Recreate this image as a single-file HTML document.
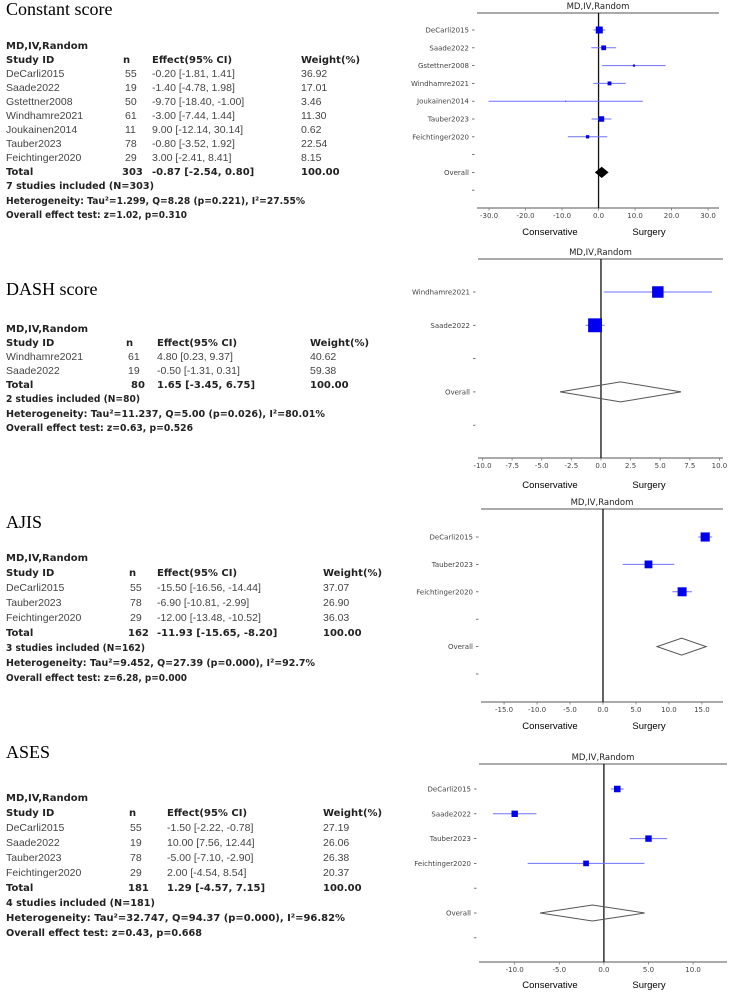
<!DOCTYPE html>
<html><head><meta charset="utf-8"><style>
body{margin:0;background:#fff;width:747px;height:992px;overflow:hidden}
svg{display:block}
.t{font-family:"Liberation Sans","DejaVu Sans",sans-serif;font-size:10.5px;fill:#444}
.b{font-family:"DejaVu Sans","Liberation Sans",sans-serif;font-size:10px;font-weight:bold;fill:#222}
.h{font-family:"Liberation Serif",serif;font-size:18px;fill:#000}
.ax{font-family:"DejaVu Sans","Liberation Sans",sans-serif;font-size:7px;fill:#444}
.lab{font-family:"Liberation Sans",sans-serif;font-size:9.5px;fill:#000}
.ttl{font-family:"DejaVu Sans","Liberation Sans",sans-serif;font-size:8.5px;fill:#222}
</style></head><body>
<svg id="s" width="747" height="992">
<g>
<text class="h" x="6" y="15">Constant score</text>
<text class="b" x="6" y="49">MD,IV,Random</text>
<text class="b" x="6" y="63">Study ID</text><text class="b" x="123" y="63">n</text><text class="b" x="152" y="63">Effect(95% CI)</text><text class="b" x="301" y="63">Weight(%)</text>
<text class="t" x="6" y="77">DeCarli2015</text><text class="t" x="125" y="77">55</text><text class="t" x="152" y="77">-0.20 [-1.81, 1.41]</text><text class="t" x="301" y="77">36.92</text>
<text class="t" x="6" y="91">Saade2022</text><text class="t" x="125" y="91">19</text><text class="t" x="152" y="91">-1.40 [-4.78, 1.98]</text><text class="t" x="301" y="91">17.01</text>
<text class="t" x="6" y="105">Gstettner2008</text><text class="t" x="125" y="105">50</text><text class="t" x="152" y="105">-9.70 [-18.40, -1.00]</text><text class="t" x="301" y="105">3.46</text>
<text class="t" x="6" y="119">Windhamre2021</text><text class="t" x="125" y="119">61</text><text class="t" x="152" y="119">-3.00 [-7.44, 1.44]</text><text class="t" x="301" y="119">11.30</text>
<text class="t" x="6" y="133">Joukainen2014</text><text class="t" x="125" y="133">11</text><text class="t" x="152" y="133">9.00 [-12.14, 30.14]</text><text class="t" x="301" y="133">0.62</text>
<text class="t" x="6" y="147">Tauber2023</text><text class="t" x="125" y="147">78</text><text class="t" x="152" y="147">-0.80 [-3.52, 1.92]</text><text class="t" x="301" y="147">22.54</text>
<text class="t" x="6" y="161">Feichtinger2020</text><text class="t" x="125" y="161">29</text><text class="t" x="152" y="161">3.00 [-2.41, 8.41]</text><text class="t" x="301" y="161">8.15</text>
<text class="b" x="6" y="175">Total</text><text class="b" x="122" y="175">303</text><text class="b" x="152" y="175">-0.87 [-2.54, 0.80]</text><text class="b" x="301" y="175">100.00</text>
<text class="b" x="6" y="189" textLength="148" lengthAdjust="spacingAndGlyphs">7 studies included (N=303)</text>
<text class="b" x="6" y="204" textLength="299" lengthAdjust="spacingAndGlyphs">Heterogeneity: Tau²=1.299, Q=8.28 (p=0.221), I²=27.55%</text>
<text class="b" x="6" y="218" textLength="181" lengthAdjust="spacingAndGlyphs">Overall effect test: z=1.02, p=0.310</text>
</g>
<g>
<text class="h" x="6" y="295">DASH score</text>
<text class="b" x="6" y="332">MD,IV,Random</text>
<text class="b" x="6" y="346">Study ID</text><text class="b" x="126" y="346">n</text><text class="b" x="157" y="346">Effect(95% CI)</text><text class="b" x="310" y="346">Weight(%)</text>
<text class="t" x="6" y="360">Windhamre2021</text><text class="t" x="128" y="360">61</text><text class="t" x="157" y="360">4.80 [0.23, 9.37]</text><text class="t" x="310" y="360">40.62</text>
<text class="t" x="6" y="374">Saade2022</text><text class="t" x="128" y="374">19</text><text class="t" x="157" y="374">-0.50 [-1.31, 0.31]</text><text class="t" x="310" y="374">59.38</text>
<text class="b" x="6" y="388">Total</text><text class="b" x="131" y="388">80</text><text class="b" x="157" y="388">1.65 [-3.45, 6.75]</text><text class="b" x="310" y="388">100.00</text>
<text class="b" x="6" y="402" textLength="134" lengthAdjust="spacingAndGlyphs">2 studies included (N=80)</text>
<text class="b" x="6" y="417" textLength="319" lengthAdjust="spacingAndGlyphs">Heterogeneity: Tau²=11.237, Q=5.00 (p=0.026), I²=80.01%</text>
<text class="b" x="6" y="431" textLength="187" lengthAdjust="spacingAndGlyphs">Overall effect test: z=0.63, p=0.526</text>
</g>
<g>
<text class="h" x="6" y="528">AJIS</text>
<text class="b" x="6" y="561">MD,IV,Random</text>
<text class="b" x="6" y="576">Study ID</text><text class="b" x="129" y="576">n</text><text class="b" x="157" y="576">Effect(95% CI)</text><text class="b" x="323" y="576">Weight(%)</text>
<text class="t" x="6" y="591">DeCarli2015</text><text class="t" x="130" y="591">55</text><text class="t" x="157" y="591">-15.50 [-16.56, -14.44]</text><text class="t" x="323" y="591">37.07</text>
<text class="t" x="6" y="606">Tauber2023</text><text class="t" x="130" y="606">78</text><text class="t" x="157" y="606">-6.90 [-10.81, -2.99]</text><text class="t" x="323" y="606">26.90</text>
<text class="t" x="6" y="621">Feichtinger2020</text><text class="t" x="130" y="621">29</text><text class="t" x="157" y="621">-12.00 [-13.48, -10.52]</text><text class="t" x="323" y="621">36.03</text>
<text class="b" x="6" y="636">Total</text><text class="b" x="128" y="636">162</text><text class="b" x="157" y="636">-11.93 [-15.65, -8.20]</text><text class="b" x="323" y="636">100.00</text>
<text class="b" x="6" y="651" textLength="139" lengthAdjust="spacingAndGlyphs">3 studies included (N=162)</text>
<text class="b" x="6" y="666" textLength="309" lengthAdjust="spacingAndGlyphs">Heterogeneity: Tau²=9.452, Q=27.39 (p=0.000), I²=92.7%</text>
<text class="b" x="6" y="681" textLength="181" lengthAdjust="spacingAndGlyphs">Overall effect test: z=6.28, p=0.000</text>
</g>
<g>
<text class="h" x="6" y="758">ASES</text>
<text class="b" x="6" y="801">MD,IV,Random</text>
<text class="b" x="6" y="816">Study ID</text><text class="b" x="129" y="816">n</text><text class="b" x="167" y="816">Effect(95% CI)</text><text class="b" x="323" y="816">Weight(%)</text>
<text class="t" x="6" y="831">DeCarli2015</text><text class="t" x="130" y="831">55</text><text class="t" x="167" y="831">-1.50 [-2.22, -0.78]</text><text class="t" x="323" y="831">27.19</text>
<text class="t" x="6" y="846">Saade2022</text><text class="t" x="130" y="846">19</text><text class="t" x="167" y="846">10.00 [7.56, 12.44]</text><text class="t" x="323" y="846">26.06</text>
<text class="t" x="6" y="861">Tauber2023</text><text class="t" x="130" y="861">78</text><text class="t" x="167" y="861">-5.00 [-7.10, -2.90]</text><text class="t" x="323" y="861">26.38</text>
<text class="t" x="6" y="876">Feichtinger2020</text><text class="t" x="130" y="876">29</text><text class="t" x="167" y="876">2.00 [-4.54, 8.54]</text><text class="t" x="323" y="876">20.37</text>
<text class="b" x="6" y="891">Total</text><text class="b" x="128" y="891">181</text><text class="b" x="167" y="891">1.29 [-4.57, 7.15]</text><text class="b" x="323" y="891">100.00</text>
<text class="b" x="6" y="906" textLength="149" lengthAdjust="spacingAndGlyphs">4 studies included (N=181)</text>
<text class="b" x="6" y="921" textLength="339" lengthAdjust="spacingAndGlyphs">Heterogeneity: Tau²=32.747, Q=94.37 (p=0.000), I²=96.82%</text>
<text class="b" x="6" y="936" textLength="196" lengthAdjust="spacingAndGlyphs">Overall effect test: z=0.43, p=0.668</text>
</g>
</svg>
<script>
// Panel 1: Constant score
const p1Labels=["DeCarli2015","Saade2022","Gstettner2008","Windhamre2021","Joukainen2014","Tauber2023","Feichtinger2020"];
const p1Mean=[0.2,1.4,9.7,3.0,-9.0,0.8,-3.0];
const p1Low=[-1.41,-1.98,1.0,-1.44,-30.14,-1.92,-8.41];
const p1High=[1.81,4.78,18.4,7.44,12.14,3.52,2.41];
const p1Weight=[36.92,17.01,3.46,11.30,0.62,22.54,8.15];
const p1Overall=[0.87,-0.8,2.54];
const p1Ticks=[-30,-20,-10,0,10,20,30];
// Panel 2: DASH
const p2Labels=["Windhamre2021","Saade2022"];
const p2Mean=[4.8,-0.5];
const p2Low=[0.23,-1.31];
const p2High=[9.37,0.31];
const p2Weight=[40.62,59.38];
const p2Overall=[1.65,-3.45,6.75];
const p2Ticks=[-10,-7.5,-5,-2.5,0,2.5,5,7.5,10];
// Panel 3: AJIS
const p3Labels=["DeCarli2015","Tauber2023","Feichtinger2020"];
const p3Mean=[15.5,6.9,12.0];
const p3Low=[14.44,2.99,10.52];
const p3High=[16.56,10.81,13.48];
const p3Weight=[37.07,26.90,36.03];
const p3Overall=[11.93,8.2,15.65];
const p3Ticks=[-15,-10,-5,0,5,10,15];
// Panel 4: ASES
const p4Labels=["DeCarli2015","Saade2022","Tauber2023","Feichtinger2020"];
const p4Mean=[1.5,-10.0,5.0,-2.0];
const p4Low=[0.78,-12.44,2.9,-8.54];
const p4High=[2.22,-7.56,7.1,4.54];
const p4Weight=[27.19,26.06,26.38,20.37];
const p4Overall=[-1.29,-7.15,4.57];
const p4Ticks=[-10,-5,0,5,10];

const NS="http://www.w3.org/2000/svg";
const svg=document.getElementById('s');
function mk(tag,attrs,parent,txt){const e=document.createElementNS(NS,tag);for(const k in attrs)e.setAttribute(k,attrs[k]);if(txt!==undefined)e.textContent=txt;(parent||svg).appendChild(e);return e;}

function panel(name,cfg,labels,mean,low,high,weight,overall,ticks){
  const g=mk('g',{});
  
  
  const sx=v=>cfg.L+(v-cfg.d0)/(cfg.d1-cfg.d0)*(cfg.R-cfg.L);
  const nRows=labels.length+3;
  const sy=i=>cfg.r0+i*cfg.step;
  const t=mk('text',{class:'ttl',x:(cfg.L+cfg.R)/2,y:cfg.T-4,'text-anchor':'middle'},g,'MD,IV,Random');
  
  
  mk('line',{x1:cfg.L,x2:cfg.R,y1:cfg.T,y2:cfg.T,stroke:'#777','stroke-width':1.3},g);
  mk('line',{x1:cfg.L,x2:cfg.R,y1:cfg.B,y2:cfg.B,stroke:'#777','stroke-width':1.3},g);
  const z=mk('line',{x1:sx(0),x2:sx(0),y1:cfg.T,y2:cfg.B,stroke:'#111','stroke-width':1.3},g);
  
  
  ticks.forEach(v=>{
    mk('line',{x1:sx(v),x2:sx(v),y1:cfg.B,y2:cfg.B+2.5,stroke:'#777','stroke-width':0.8},g);
    const tl=mk('text',{class:'ax',x:sx(v),y:cfg.B+10,'text-anchor':'middle'},g,v.toFixed(1));
    
    
  });
  for(let i=0;i<nRows;i++){
    mk('line',{x1:cfg.L-5,x2:cfg.L-2.5,y1:sy(i),y2:sy(i),stroke:'#555','stroke-width':0.8},g);
  }
  const ylabs=labels.concat(['','Overall','']);
  ylabs.forEach((s,i)=>{ if(s){
    const yl=mk('text',{class:'ax',x:cfg.L-8,y:sy(i)+2.5,'text-anchor':'end'},g,s);
    
    
  }});
  labels.forEach((s,i)=>{
    const ci=mk('line',{x1:sx(low[i]),x2:sx(high[i]),y1:sy(i),y2:sy(i),stroke:'#7070ff','stroke-width':1},g);
    
    
    const w=Math.sqrt(weight[i])*cfg.k;
    const m=mk('rect',{x:sx(mean[i])-w/2,y:sy(i)-w/2,width:w,height:w,fill:'#0000ee'},g);
    
    
  });
  const oy=sy(labels.length+1),h=cfg.dh/2;
  const pts=[[sx(overall[1]),oy],[sx(overall[0]),oy-h],[sx(overall[2]),oy],[sx(overall[0]),oy+h]].map(p=>p.join(',')).join(' ');
  const d=mk('polygon',{points:pts,fill:cfg.fill?'#000':'none',stroke:cfg.fill?'#000':'#555','stroke-width':1},g);
  
  
  if(cfg.ly){
    const c=mk('text',{class:'lab',x:550,y:cfg.ly,'text-anchor':'middle'},g,'Conservative');
    
    
    const su=mk('text',{class:'lab',x:649,y:cfg.ly,'text-anchor':'middle'},g,'Surgery');
    
    
  }
}
panel('constant-score',{L:477,R:719,T:13,B:208,d0:-33.3,d1:33.0,r0:30,step:17.8,k:1.15,dh:10,fill:true,ly:235},p1Labels,p1Mean,p1Low,p1High,p1Weight,p1Overall,p1Ticks);
panel('dash-score',{L:478,R:723,T:259,B:458,d0:-10.38,d1:10.3,r0:292,step:33.3,k:1.8,dh:20,fill:false,ly:488},p2Labels,p2Mean,p2Low,p2High,p2Weight,p2Overall,p2Ticks);
panel('ajis',{L:481,R:723,T:509,B:702,d0:-18.5,d1:18.2,r0:537,step:27.4,k:1.5,dh:17,fill:false,ly:729},p3Labels,p3Mean,p3Low,p3High,p3Weight,p3Overall,p3Ticks);
panel('ases',{L:479,R:727,T:764,B:962,d0:-14.0,d1:13.8,r0:789,step:24.8,k:1.25,dh:16,fill:false,ly:988},p4Labels,p4Mean,p4Low,p4High,p4Weight,p4Overall,p4Ticks);
</script>
</body></html>
